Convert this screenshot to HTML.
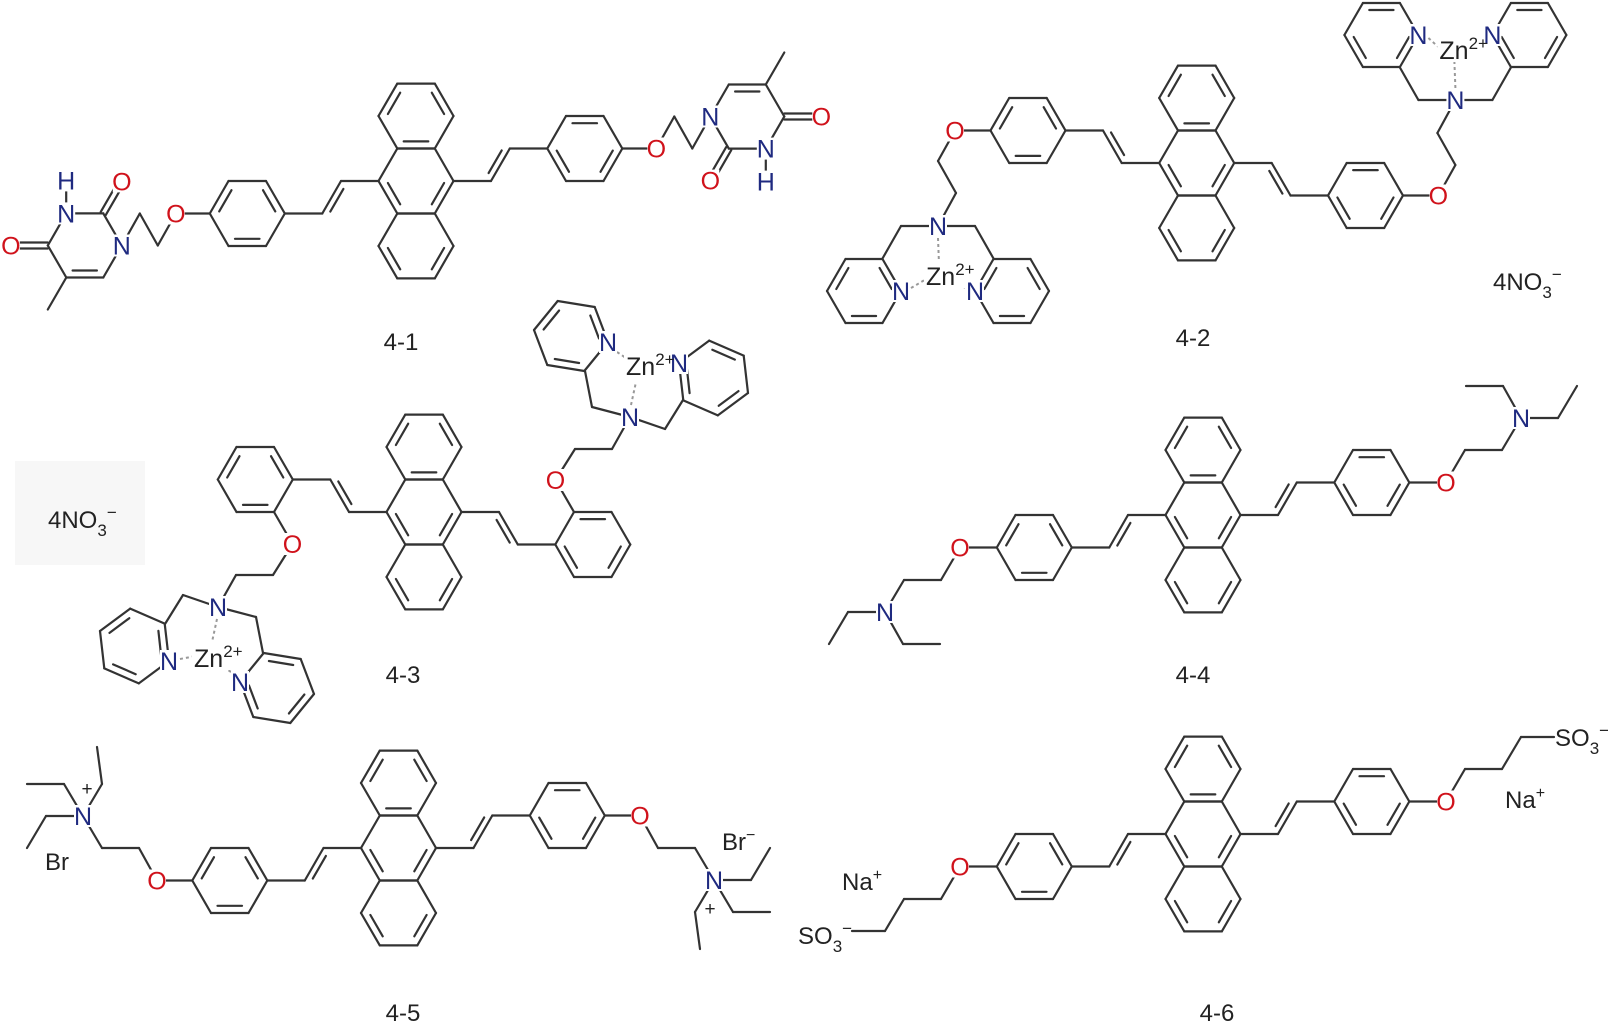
<!DOCTYPE html>
<html><head><meta charset="utf-8">
<style>
html,body{margin:0;padding:0;background:#fff;}
svg{display:block;font-family:"Liberation Sans",Arial,sans-serif;}
.b{stroke:#333;stroke-width:2.2;stroke-linecap:round;fill:none}
.d{stroke:#999;stroke-width:2;stroke-dasharray:3,3;fill:none}
.a{font-size:25px}
.t{font-size:24px;fill:#222}
</style></head><body>
<svg id="s" width="1608" height="1029" viewBox="0 0 1608 1029" xmlns="http://www.w3.org/2000/svg">
<rect x="15" y="461" width="130" height="104" fill="#f7f7f7"/>
<text class="t" x="48" y="528">4NO<tspan dy="8" font-size="17">3</tspan><tspan dy="-18" font-size="17">−</tspan></text>
<text class="t" x="1493" y="290">4NO<tspan dy="8" font-size="17">3</tspan><tspan dy="-18" font-size="17">−</tspan></text>
<text class="t" x="401" y="350" text-anchor="middle">4-1</text>
<text class="t" x="1193" y="346" text-anchor="middle">4-2</text>
<text class="t" x="403" y="683" text-anchor="middle">4-3</text>
<text class="t" x="1193" y="683" text-anchor="middle">4-4</text>
<text class="t" x="403" y="1021" text-anchor="middle">4-5</text>
<text class="t" x="1217" y="1021" text-anchor="middle">4-6</text>
<text class="t" x="45" y="870">Br</text>
<text class="t" x="722" y="850">Br<tspan dy="-10" font-size="16">−</tspan></text>
<text class="t" x="842" y="890">Na<tspan dy="-10" font-size="16">+</tspan></text>
<text class="t" x="1505" y="808">Na<tspan dy="-10" font-size="16">+</tspan></text>
<text class="t" x="798" y="944">SO<tspan dy="8" font-size="17">3</tspan><tspan dy="-18" font-size="17">−</tspan></text>
<text class="t" x="1555" y="746">SO<tspan dy="8" font-size="17">3</tspan><tspan dy="-18" font-size="17">−</tspan></text>
<g id="g"></g>
</svg>
<script>
(function(){
var bonds=[],labs=[],zr=[],zt=[];
var r=37.5,L=37.5,H=r*Math.sqrt(3)/2;
var BLUE="#1f2a80",RED="#d0121b";
function f(n){return n.toFixed(1);}
function ln(a,b,c){bonds.push('<line class="'+(c||'b')+'" x1="'+f(a[0])+'" y1="'+f(a[1])+'" x2="'+f(b[0])+'" y2="'+f(b[1])+'"/>');}
function inner(A,B,off){var dx=B[0]-A[0],dy=B[1]-A[1],l=Math.hypot(dx,dy),nx=dy/l*off,ny=-dx/l*off;
 ln([A[0]+dx*0.15+nx,A[1]+dy*0.15+ny],[A[0]+dx*0.85+nx,A[1]+dy*0.85+ny]);}
function dbl2(A,B){var dx=B[0]-A[0],dy=B[1]-A[1],l=Math.hypot(dx,dy),nx=-dy/l*3,ny=dx/l*3;
 ln([A[0]+nx,A[1]+ny],[B[0]+nx,B[1]+ny]);ln([A[0]-nx,A[1]-ny],[B[0]-nx,B[1]-ny]);}
function hexA(c,a0,rr,inn,T){var v=[];for(var k=0;k<6;k++){var a=(a0+60*k)*Math.PI/180;v.push([c[0]+rr*Math.cos(a),c[1]+rr*Math.sin(a)]);}
 for(k=0;k<6;k++){ln(T(v[k]),T(v[(k+1)%6]));}
 (inn||[]).forEach(function(k){var p=v[k],q=v[(k+1)%6],fa=0.78;
  var P=[c[0]+(p[0]-c[0])*fa,c[1]+(p[1]-c[1])*fa],Q=[c[0]+(q[0]-c[0])*fa,c[1]+(q[1]-c[1])*fa];
  var dx=Q[0]-P[0],dy=Q[1]-P[1];
  ln(T([P[0]+dx*0.08,P[1]+dy*0.08]),T([Q[0]-dx*0.08,Q[1]-dy*0.08]));});
 return v;}
function hexCV(c,vtx,inn,T){var a0=Math.atan2(vtx[1]-c[1],vtx[0]-c[0])*180/Math.PI;var rr=Math.hypot(vtx[0]-c[0],vtx[1]-c[1]);return hexA(c,a0,rr,inn,T);}
function lab(p,txt,col){var x=p[0],y=p[1];
 labs.push('<rect x="'+f(x-9)+'" y="'+f(y-11)+'" width="18" height="22" fill="#fff"/>');
 labs.push('<text class="a" x="'+f(x)+'" y="'+f(y+9)+'" text-anchor="middle" fill="'+col+'">'+txt+'</text>');}
function zn(p){var x=p[0]-14,y=p[1];
 zr.push('<rect x="'+f(x-2)+'" y="'+f(y-14)+'" width="50" height="26" fill="#fff"/>');
 zt.push('<text class="a" x="'+f(x)+'" y="'+f(y+9)+'" fill="#222">Zn<tspan dy="-10" font-size="17">2+</tspan></text>');}
function add(p,d){return [p[0]+d[0],p[1]+d[1]];}
function anth(cx,cy){var I=function(p){return p;};
 hexA([cx,cy-2*H],0,r,[1,3,5],I);hexA([cx,cy],0,r,[0,2],I);hexA([cx,cy+2*H],0,r,[0,2],I);}
function arm(T,cx,cy,s){var v=[cx-r,cy],a1=[cx-r-L,cy],a2=[a1[0]-L/2,cy+s*L*0.866],a3=[a2[0]-L,a2[1]];
 ln(T(v),T(a1));ln(T(a1),T(a2));inner(T(a1),T(a2),s*6);ln(T(a2),T(a3));
 var pc=[a3[0]-r,a3[1]];hexA(pc,0,r,[1,3,5],T);return {pc:pc,pl:[pc[0]-r,pc[1]]};}
function mol(cx,cy,half){anth(cx,cy);half(function(p){return p;});half(function(p){return [2*cx-p[0],2*cy-p[1]];});}
function path(T,pts){for(var i=0;i<pts.length-1;i++)ln(T(pts[i]),T(pts[i+1]));}
function dpa(T,N){
 var nx=N[0],ny=N[1];
 var CL=[nx-37,ny],C2L=[nx-55.5,ny+32.5],pL=[nx-37,ny+65],cLc=[nx-74,ny+65];
 var CR=[nx+37,ny],C2R=[nx+55.5,ny+32.5],pR=[nx+37,ny+65],cRc=[nx+74,ny+65];
 path(T,[N,CL,C2L]);path(T,[N,CR,C2R]);
 hexCV(cLc,pL,[1,3,5],T);hexCV(cRc,pR,[0,2,4],T);
 var Z=[nx+2,ny+50];
 ln(T([nx,ny+12]),T([nx+1,ny+38]),'d');ln(T([pL[0]+10,pL[1]-3]),T([Z[0]-12,Z[1]+2]),'d');ln(T([pR[0]-10,pR[1]-3]),T([Z[0]+14,Z[1]+2]),'d');
 lab(T(N),'N',BLUE);lab(T(pL),'N',BLUE);lab(T(pR),'N',BLUE);zn(T(Z));}

mol(416,181,function(T){var a=arm(T,416,181,1);var O=[a.pl[0]-34,a.pl[1]];ln(T(a.pl),T(O));
 var c1=[O[0]-18,O[1]+32],c2=[O[0]-36,O[1]],N1=[O[0]-54,O[1]+32];path(T,[O,c1,c2,N1]);
 var v=hexCV([N1[0]-37,N1[1]],N1,[1],T);
 var O2=add(v[5],[18.5,-32]);dbl2(T(v[5]),T(O2));
 var Hh=add(v[4],[0,-33]);ln(T(v[4]),T(Hh));
 var O4=add(v[3],[-37,0]);dbl2(T(v[3]),T(O4));
 ln(T(v[2]),T(add(v[2],[-18.5,32])));
 lab(T(O),'O',RED);lab(T(N1),'N',BLUE);lab(T(v[4]),'N',BLUE);lab(T(Hh),'H',BLUE);lab(T(O2),'O',RED);lab(T(O4),'O',RED);});
mol(1196.7,163,function(T){var a=arm(T,1196.7,163,-1);var O=[955,a.pl[1]];ln(T(a.pl),T(O));
 var N=[938,226];path(T,[O,[938,161],[956,193],N]);dpa(T,N);lab(T(O),'O',RED);});
mol(424,512,function(T){var a=arm(T,424,512,-1);var pc=a.pc;var LR=[pc[0]+r/2,pc[1]+H];
 var O=add(LR,[18.5,32]);ln(T(LR),T(O));var N=[218,607];path(T,[O,[273,575],[236,575],N]);
 var CL=[183,595],C2L=[165,624],pL=[169,661],CR=[256,617],C2R=[263,653],pR=[240,682],Z=[208,658];
 path(T,[N,CL,C2L]);path(T,[N,CR,C2R]);
 hexCV([134.5,646],pL,[1,3,5],T);hexCV([277,688],pR,[1,3,5],T);
 ln(T([217,619]),T([212,642]),'d');ln(T([180,659]),T([196,656]),'d');ln(T([231,672]),T([222,666]),'d');
 lab(T(O),'O',RED);lab(T(N),'N',BLUE);lab(T(pL),'N',BLUE);lab(T(pR),'N',BLUE);zn(T(Z));});
mol(1203,515,function(T){var a=arm(T,1203,515,1);var O=[960,a.pl[1]];ln(T(a.pl),T(O));
 var N=[885,612];path(T,[O,[941,580],[904,580],N]);path(T,[N,[848,612],[829,644]]);path(T,[N,[903,644],[940,644]]);
 lab(T(O),'O',RED);lab(T(N),'N',BLUE);});
mol(398.5,848,function(T){var a=arm(T,398.5,848,1);var O=[157,a.pl[1]];ln(T(a.pl),T(O));
 var N=[83,816];path(T,[O,[139,848],[102,848],N]);path(T,[N,[64,784],[27,784]]);path(T,[N,[46,816],[27,848]]);path(T,[N,[102,784],[97,747]]);
 lab(T(O),'O',RED);lab(T(N),'N',BLUE);var pl=T([87,788]);
 labs.push('<text x="'+f(pl[0])+'" y="'+f(pl[1]+7)+'" text-anchor="middle" font-size="19" fill="#222">+</text>');});
mol(1203,834,function(T){var a=arm(T,1203,834,1);var O=[960,a.pl[1]];ln(T(a.pl),T(O));
 path(T,[O,[941,899],[904,899],[885,931],[852,931]]);lab(T(O),'O',RED);});

document.getElementById('g').innerHTML=bonds.join('')+zr.join('')+labs.join('')+zt.join('');
})();
</script>
</body></html>
